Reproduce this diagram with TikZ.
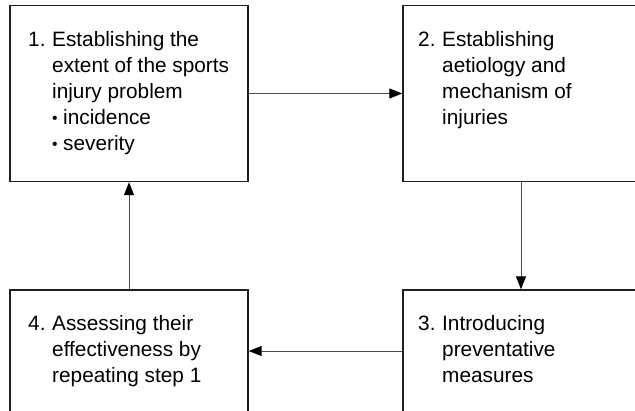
\documentclass[tikz,border=0pt]{standalone}
\usepackage{fontspec}
\setmainfont{Liberation Sans}
\usetikzlibrary{arrows.meta}
\begin{document}
\begin{tikzpicture}[x=1pt,y=-1pt,
  stage/.style={draw=black!88,line width=1.4pt,rectangle,inner sep=0pt},
  flow/.style={draw=black!70,line width=1pt,-{Triangle[length=13pt,width=10pt,color=black]}},
  steptext/.style={anchor=base west,inner sep=0pt,font=\fontsize{20.8pt}{26pt}\selectfont}]
\newcommand{\numlabel}[1]{\makebox[24pt][l]{#1}}
\newcommand{\smallbullet}{\makebox[11pt][l]{\raisebox{1.5pt}{\scalebox{0.75}{\textbullet}}}}
\clip (0,0) rectangle (635,410);
% the four stages of the cycle
\node[stage,minimum width=238pt,minimum height=176pt] (b1) at (129,93.5) {};
\node[stage,minimum width=236pt,minimum height=176pt] (b2) at (521,93.5) {};
\node[stage,minimum width=236pt,minimum height=122pt] (b3) at (521,351) {};
\node[stage,minimum width=238pt,minimum height=122pt] (b4) at (129,351) {};
% stage texts
\node[steptext] (t1) at (28,46.5) {\begin{tabular}[t]{@{}l@{}l@{}}
\numlabel{1.} & Establishing the\\
 & extent of the sports\\
 & injury problem\\
 & \smallbullet incidence\\
 & \smallbullet severity
\end{tabular}};
\node[steptext] (t2) at (418,46) {\begin{tabular}[t]{@{}l@{}l@{}}
\numlabel{2.} & Establishing\\
 & aetiology and\\
 & mechanism of\\
 & injuries
\end{tabular}};
\node[steptext] (t3) at (418,330.5) {\begin{tabular}[t]{@{}l@{}l@{}}
\numlabel{3.} & Introducing\\
 & preventative\\
 & measures
\end{tabular}};
\node[steptext] (t4) at (28,330.5) {\begin{tabular}[t]{@{}l@{}l@{}}
\numlabel{4.} & Assessing their\\
 & effectiveness by\\
 & repeating step 1
\end{tabular}};
% connectors
\draw[flow] (b1.east) -- (b2.west);
\draw[flow] (b2.south) -- (b3.north);
\draw[flow] (b3.west) -- (b4.east);
\draw[flow] (b4.north) -- (b1.south);
\end{tikzpicture}
\end{document}
